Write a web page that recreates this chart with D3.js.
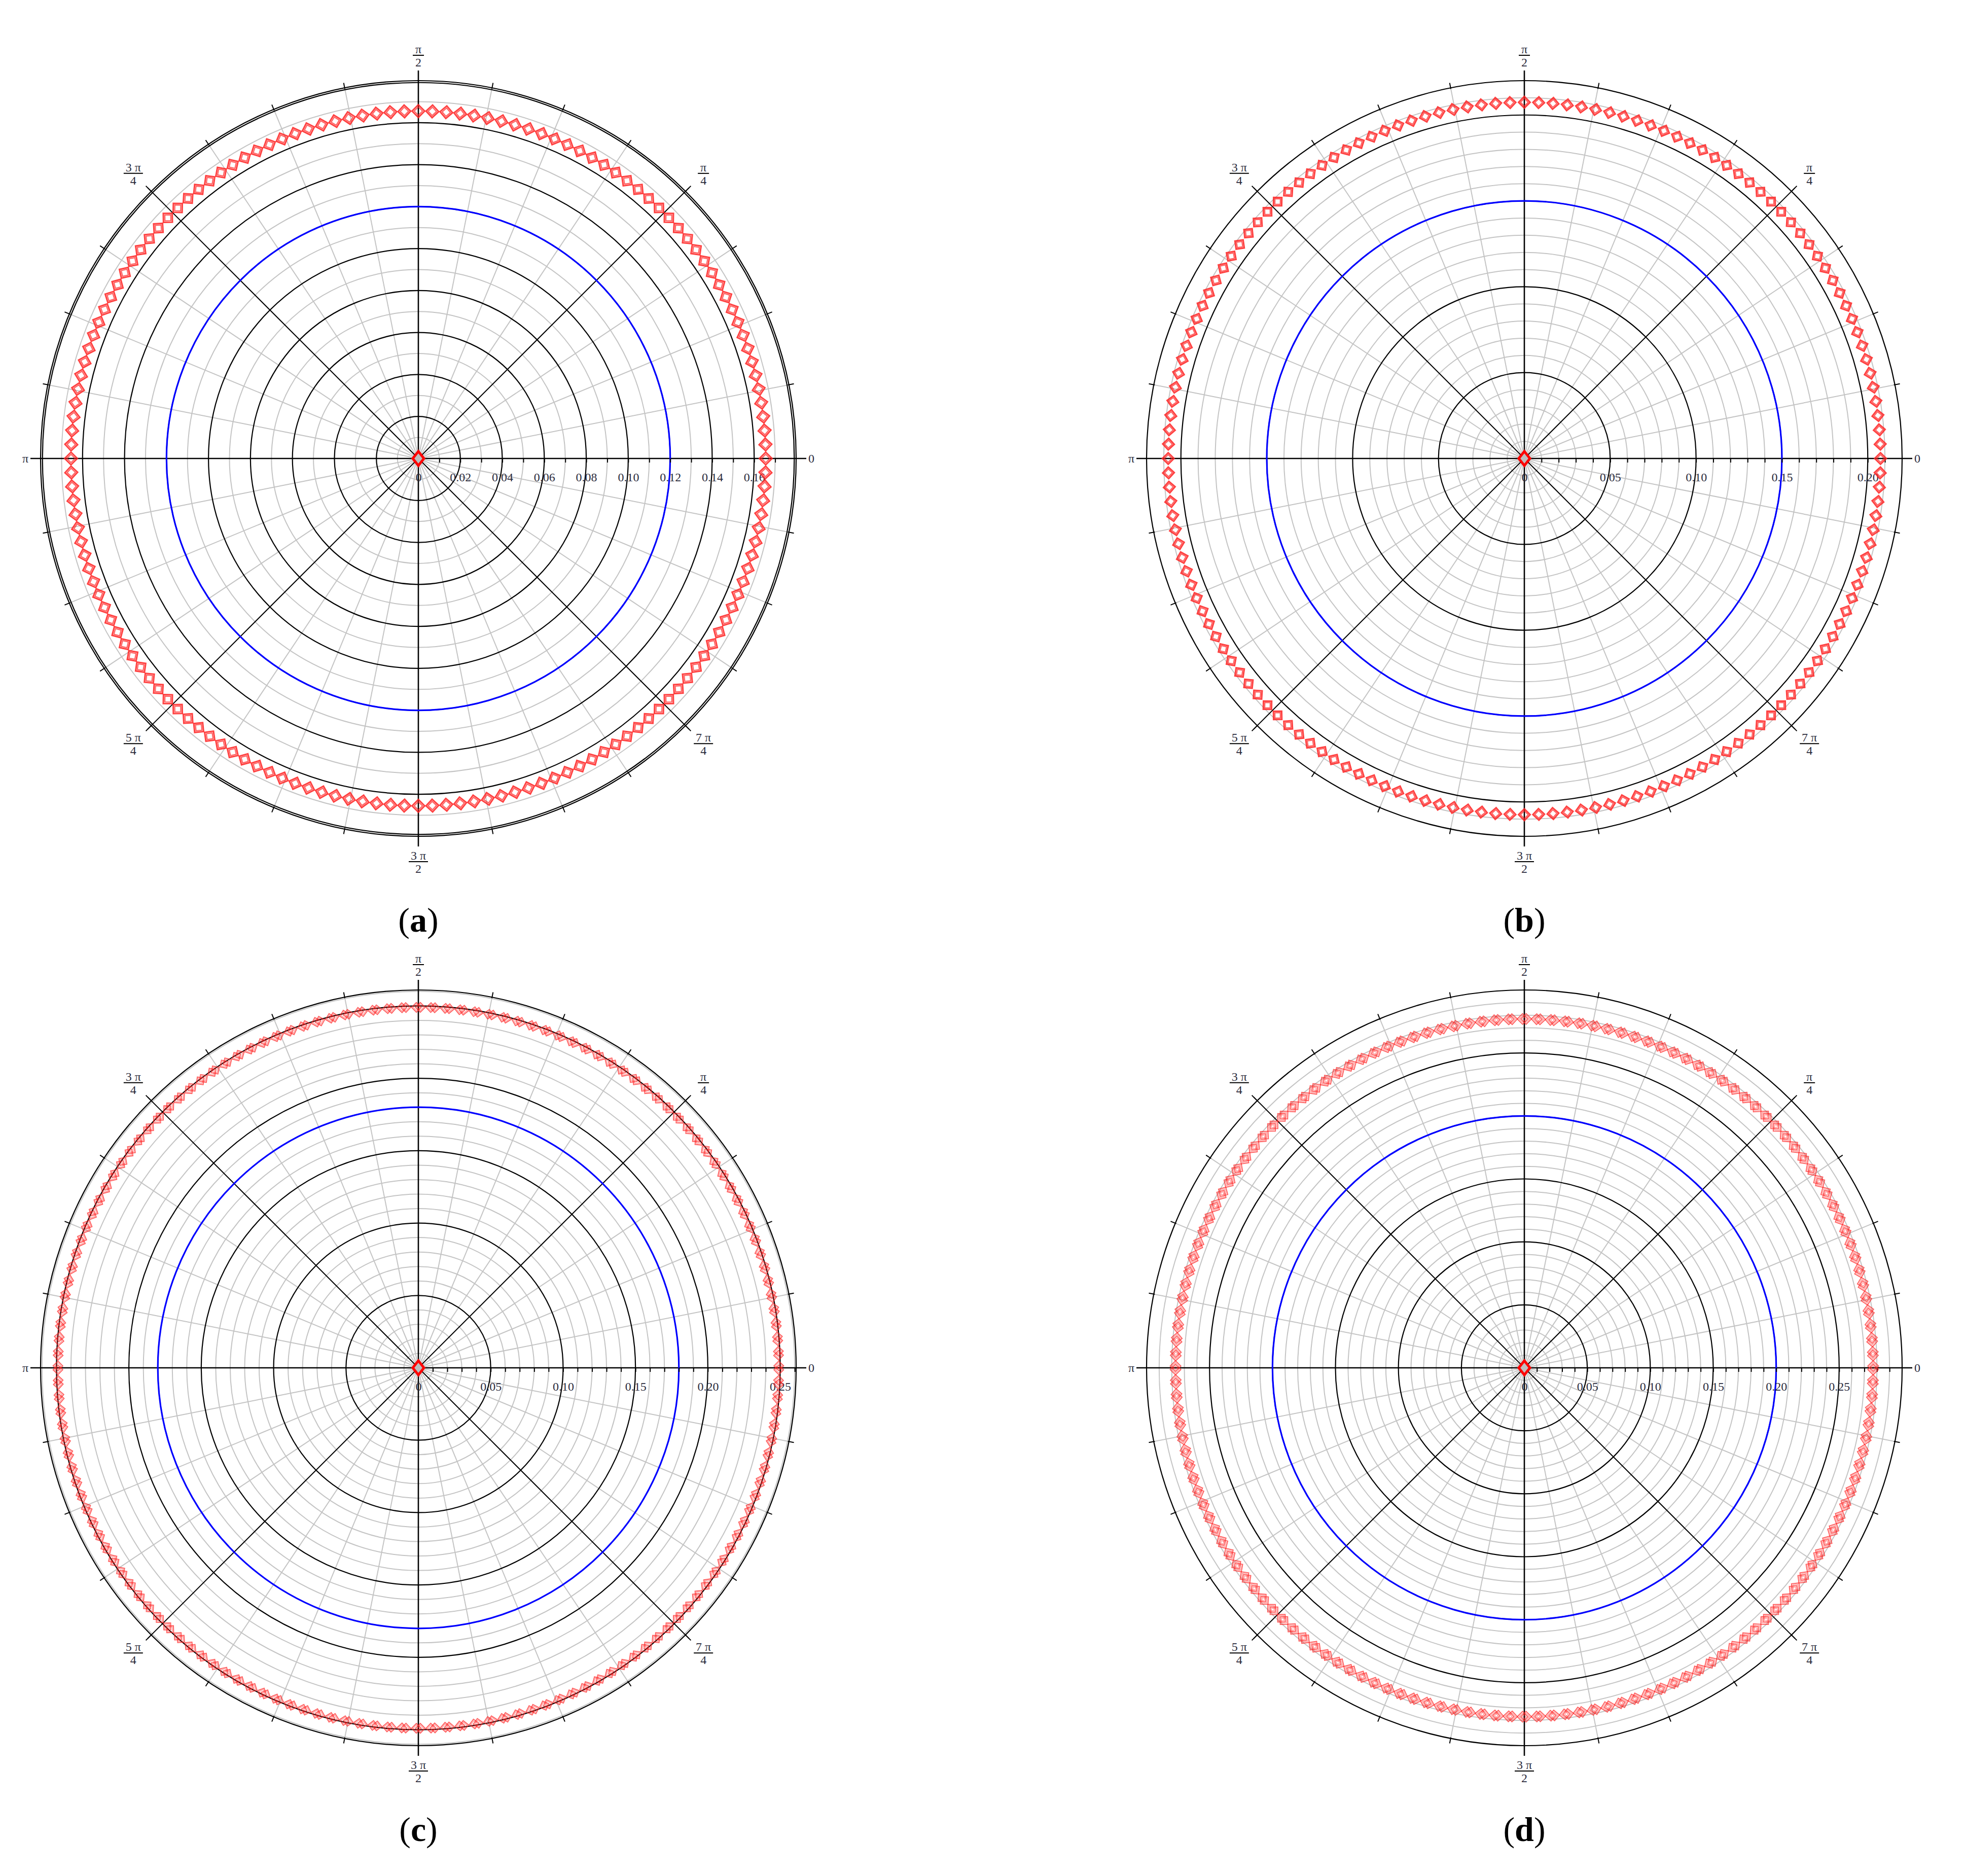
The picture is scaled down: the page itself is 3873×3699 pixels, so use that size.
<!DOCTYPE html>
<html>
<head>
<meta charset="utf-8">
<script src="https://cdn.jsdelivr.net/npm/d3@7"></script>
<style>
  body { margin: 0; background: #fff; }
  svg { display: block; }
</style>
</head>
<body>
<div id="chart"></div>
<script>
// Данные четырёх полярных графиков (a)-(d)
const panelNames = ['a', 'b', 'c', 'd'];
const rMax = [0.18, 0.22, 0.261, 0.30];
const majorTicks = [
  [0, 0.02, 0.04, 0.06, 0.08, 0.10, 0.12, 0.14, 0.16],
  [0, 0.05, 0.10, 0.15, 0.20],
  [0, 0.05, 0.10, 0.15, 0.20, 0.25],
  [0, 0.05, 0.10, 0.15, 0.20, 0.25]
];
const minorStep = 0.01;
const blueRadius = [0.12, 0.15, 0.18, 0.20];      // синяя окружность
const redRadius = [0.1655, 0.2074, 0.249, 0.277];  // красные маркеры
const redShift = [0, 0, 0.011, 0.010];             // сдвиг второго маркера (рад)
const redCount = 156;                              // число маркеров на окружности
const originPoint = [0, 0];                        // точка в центре
const angleLabels = [['0'], ['π', '4'], ['π', '2'], ['3 π', '4'], ['π'], ['5 π', '4'], ['3 π', '2'], ['7 π', '4']];

// Размеры
const width = 3873;
const height = 3699;
const centers = [[825, 904], [3006, 904], [825, 2697], [3006, 2697]];
const R = 745;
const markerDiag = [25, 23, 19, 21];
const markerStroke = [3, 3, 2, 2];
const textColor = '#2b2b3c';
const font = '"Liberation Serif", "Times New Roman", serif';

const svg = d3.select('#chart')
  .append('svg')
  .attr('width', width)
  .attr('height', height);

svg.append('rect').attr('width', width).attr('height', height).attr('fill', '#fff');

const fmt = d3.format('.2f');
const px = (rad, a) => rad * Math.cos(a);
const py = (rad, a) => -rad * Math.sin(a);

panelNames.forEach((name, i) => {
  const [cx, cy] = centers[i];
  const g = svg.append('g').attr('transform', `translate(${cx},${cy})`);

  const r = d3.scaleLinear().domain([0, rMax[i]]).range([0, R]);

  const isMajor = v => majorTicks[i].some(m => Math.abs(m - v) < 1e-6);
  const nMinor = Math.floor((rMax[i] - 0.0005) / minorStep);
  const allTicks = d3.range(0, nMinor + 1).map(k => +(k * minorStep).toFixed(2));

  // Серые окружности
  g.selectAll('circle.minor')
    .data(allTicks.filter(v => v > 0 && !isMajor(v)))
    .enter()
    .append('circle')
    .attr('class', 'minor')
    .attr('r', d => r(d))
    .attr('fill', 'none')
    .attr('stroke', '#c4c4c4')
    .attr('stroke-width', 2);

  // Радиальные линии
  const dirs = d3.range(32).map(k => k * Math.PI / 16);
  g.selectAll('line.spoke')
    .data(dirs.filter((d, k) => k % 4 !== 0))
    .enter()
    .append('line')
    .attr('class', 'spoke')
    .attr('x1', 0).attr('y1', 0)
    .attr('x2', a => px(R, a))
    .attr('y2', a => py(R, a))
    .attr('stroke', '#c4c4c4')
    .attr('stroke-width', 2);

  // Чёрные окружности
  g.selectAll('circle.major')
    .data(majorTicks[i].filter(v => v > 0))
    .enter()
    .append('circle')
    .attr('class', 'major')
    .attr('r', d => r(d))
    .attr('fill', 'none')
    .attr('stroke', '#000')
    .attr('stroke-width', 2.2);

  // Внешняя граница
  const outer = i === 0 ? [rMax[i], rMax[i] - 0.0009] : [rMax[i]];
  g.selectAll('circle.outer')
    .data(outer)
    .enter()
    .append('circle')
    .attr('class', 'outer')
    .attr('r', d => r(d))
    .attr('fill', 'none')
    .attr('stroke', '#000')
    .attr('stroke-width', 2.2);

  // Засечки на внешней окружности
  g.selectAll('line.otick')
    .data(dirs)
    .enter()
    .append('line')
    .attr('class', 'otick')
    .attr('x1', a => px(R - 2, a)).attr('y1', a => py(R - 2, a))
    .attr('x2', a => px(R + 10, a)).attr('y2', a => py(R + 10, a))
    .attr('stroke', '#000')
    .attr('stroke-width', 2);

  // Чёрные оси через центр
  g.selectAll('line.axis')
    .data(dirs.filter((d, k) => k % 4 === 0))
    .enter()
    .append('line')
    .attr('class', 'axis')
    .attr('x1', 0).attr('y1', 0)
    .attr('x2', (a, k) => px(k % 2 === 0 ? R + 20 : R + 15, a))
    .attr('y2', (a, k) => py(k % 2 === 0 ? R + 20 : R + 15, a))
    .attr('stroke', '#000')
    .attr('stroke-width', (a, k) => k % 2 === 0 ? 2.6 : 2);

  // Синяя окружность
  g.append('circle')
    .attr('r', r(blueRadius[i]))
    .attr('fill', 'none')
    .attr('stroke', '#0000ff')
    .attr('stroke-width', 3.2);

  // Горизонтальная шкала
  const axis = d3.axisBottom(r)
    .tickValues(allTicks)
    .tickSize(8)
    .tickPadding(20)
    .tickFormat(v => isMajor(v) ? (v === 0 ? '0' : fmt(v)) : '');

  const ax = g.append('g').call(axis);
  ax.select('.domain').remove();
  ax.selectAll('.tick line').attr('stroke', '#000').attr('stroke-width', 2);
  ax.selectAll('.tick text')
    .attr('fill', textColor)
    .style('font-family', font)
    .style('font-size', '24px');

  // Красные маркеры
  const h = markerDiag[i] / 2;
  const diamond = s => `M${s},0L0,${-s}L${-s},0L0,${s}Z`;
  const shifts = redShift[i] > 0 ? [-redShift[i] / 2, redShift[i] / 2] : [0];
  const pts = [];
  d3.range(redCount).forEach(k => {
    shifts.forEach(s => pts.push(k * 2 * Math.PI / redCount + s));
  });
  const marks = g.append('g')
    .selectAll('g')
    .data(pts)
    .enter()
    .append('g')
    .attr('transform', a => `translate(${px(r(redRadius[i]), a)},${py(r(redRadius[i]), a)}) rotate(${-a * 180 / Math.PI})`);
  marks.append('path')
    .attr('d', diamond(h))
    .attr('fill', 'none')
    .attr('stroke', '#ff2020')
    .attr('stroke-opacity', i < 2 ? 0.85 : 0.7)
    .attr('stroke-width', markerStroke[i]);
  marks.append('path')
    .attr('d', diamond(h * 0.66))
    .attr('fill', 'none')
    .attr('stroke', '#ff2020')
    .attr('stroke-opacity', i < 2 ? 0.7 : 0.45)
    .attr('stroke-width', markerStroke[i] * 0.75);

  // Точка в центре
  g.append('path')
    .attr('transform', `translate(${r(originPoint[0])},${-r(originPoint[1])})`)
    .attr('d', `M11,0L0,-14L-11,0L0,14Z`)
    .attr('fill', '#bdbdbd')
    .attr('stroke', '#ff0000')
    .attr('stroke-width', 5);

  // Подписи углов
  angleLabels.forEach((lab, k) => {
    const a = k * Math.PI / 4;
    if (lab.length === 1) {
      g.append('text')
        .attr('x', px(R + 30, a))
        .attr('y', py(R + 30, a))
        .attr('text-anchor', 'middle')
        .attr('dominant-baseline', 'central')
        .attr('fill', textColor)
        .style('font-family', font)
        .style('font-size', '24px')
        .text(lab[0]);
    } else {
      const lx = px(R + 50, a);
      const ly = py(R + 50, a);
      const bw = lab[0].length > 1 ? 38 : 22;
      const fg = g.append('g').attr('transform', `translate(${lx},${ly})`);
      fg.append('text')
        .attr('y', -12)
        .attr('text-anchor', 'middle')
        .attr('dominant-baseline', 'central')
        .attr('fill', textColor)
        .style('font-family', font)
        .style('font-size', '24px')
        .text(lab[0]);
      fg.append('line')
        .attr('x1', -bw / 2).attr('x2', bw / 2)
        .attr('y1', 0).attr('y2', 0)
        .attr('stroke', '#000')
        .attr('stroke-width', 2);
      fg.append('text')
        .attr('y', 14)
        .attr('text-anchor', 'middle')
        .attr('dominant-baseline', 'central')
        .attr('fill', textColor)
        .style('font-family', font)
        .style('font-size', '24px')
        .text(lab[1]);
    }
  });

  // Подпись панели
  const cap = g.append('text')
    .attr('y', 933)
    .attr('text-anchor', 'middle')
    .attr('fill', '#000')
    .style('font-family', font)
    .style('font-size', '68px');
  cap.append('tspan').text('(');
  cap.append('tspan').attr('font-weight', 'bold').text(name);
  cap.append('tspan').text(')');
});
</script>
</body>
</html>
